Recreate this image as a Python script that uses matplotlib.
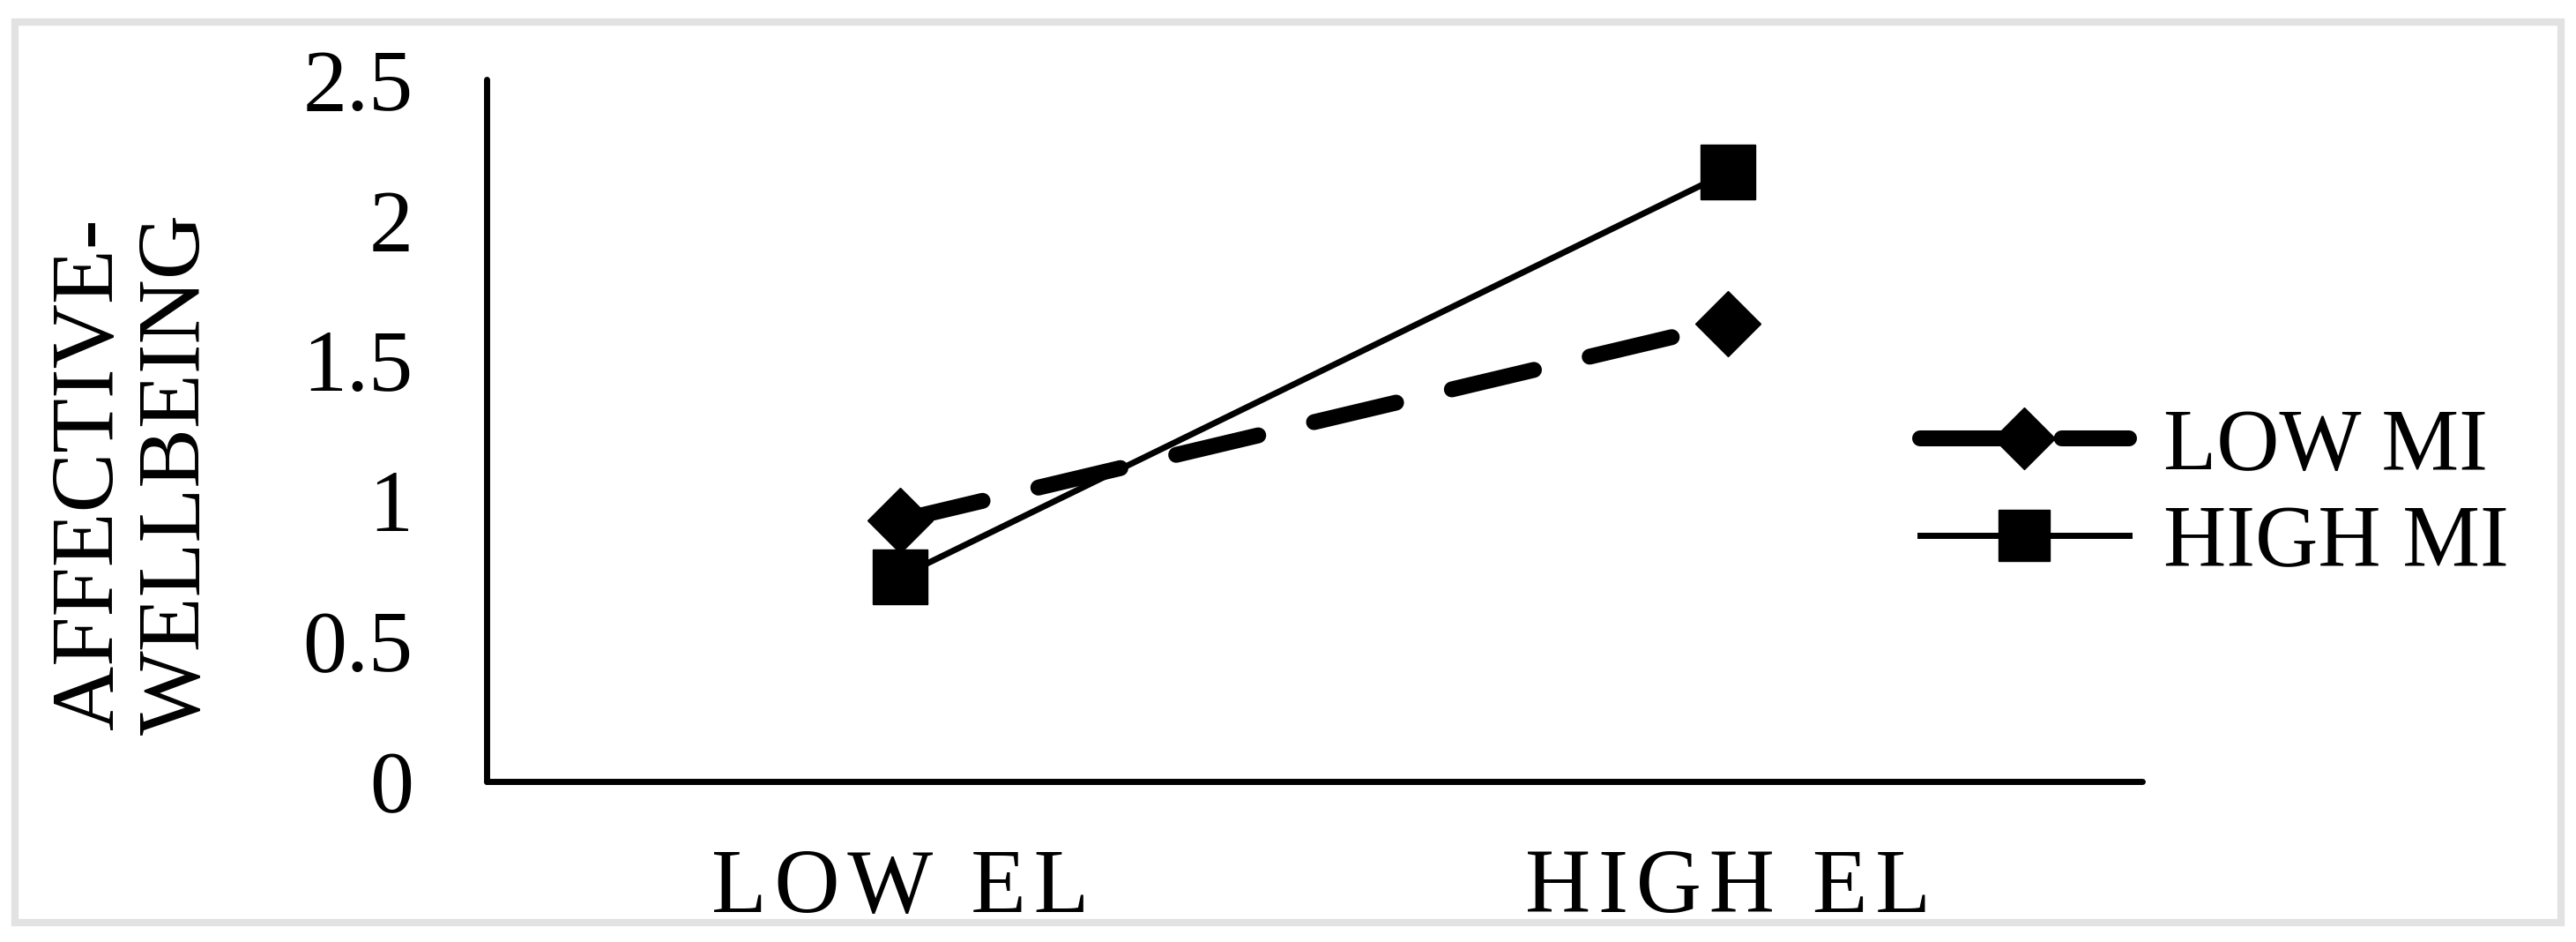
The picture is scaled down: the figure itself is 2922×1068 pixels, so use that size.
import matplotlib
matplotlib.use("Agg")
import matplotlib.pyplot as plt
from matplotlib.patches import Rectangle

# podatki (odcitani s slike)
kategorije = ["LOW EL", "HIGH EL"]
low_mi = [0.93, 1.63]
high_mi = [0.73, 2.17]
y_ticks = [0, 0.5, 1, 1.5, 2, 2.5]
y_tick_labels = ["0", "0.5", "1", "1.5", "2", "2.5"]

plt.rcParams["font.family"] = ["Liberation Serif", "DejaVu Serif"]

fig = plt.figure(figsize=(29.22, 10.68), dpi=100, facecolor="white")
ax = fig.add_axes([0.1889, 0.1704, 0.6427, 0.7453])

x = list(range(len(kategorije)))

# LOW MI - debela crtkana crta z rombom
ax.plot(x, low_mi, color="black", linewidth=13, linestyle=(0, (5.3, 3.6)),
        dash_capstyle="round", marker="D", markersize=38,
        markerfacecolor="black", markeredgecolor="black", label="LOW MI", zorder=3)
# HIGH MI - tanka polna crta s kvadratom
ax.plot(x, high_mi, color="black", linewidth=5, linestyle="-",
        marker="s", markersize=44, markerfacecolor="black",
        markeredgecolor="black", label="HIGH MI", zorder=4)

ax.set_xlim(-0.5, 1.5)
ax.set_ylim(0, 2.5)
ax.set_xticks(x)
# malo razmaknjene crke kot na originalu
razmik = "\u200a"
ax.set_xticklabels([razmik.join(k) for k in kategorije], fontsize=74)
ax.set_yticks(y_ticks)
ax.set_yticklabels(y_tick_labels, fontsize=72)
ax.tick_params(axis="both", length=0)
ax.tick_params(axis="y", pad=60)
ax.tick_params(axis="x", pad=55)

for s in ["top", "right"]:
    ax.spines[s].set_visible(False)
for s in ["left", "bottom"]:
    ax.spines[s].set_linewidth(5)
    ax.spines[s].set_color("black")
    ax.spines[s].set_capstyle("round")

fig.text(0.0524, 0.497, "AFFECTIVE-\nWELLBEING", rotation=90, fontsize=73,
         ha="center", va="center", linespacing=1.08, multialignment="center")

ax.legend(loc="center left", bbox_to_anchor=(0.7454, 0.4733),
          bbox_transform=fig.transFigure, frameon=False, fontsize=71,
          handlelength=2.4, handletextpad=0.4, labelspacing=0.2,
          borderpad=0, borderaxespad=0, markerscale=0.95)

# svetlo siv okvir okoli slike
fig.patches.append(Rectangle((17 / 2922, 1 - 1046 / 1068), (2905 - 17) / 2922,
                             (1046 - 25) / 1068, transform=fig.transFigure,
                             fill=False, edgecolor="#e2e2e2", linewidth=6))

fig.savefig("out.png", dpi=100, facecolor="white")
